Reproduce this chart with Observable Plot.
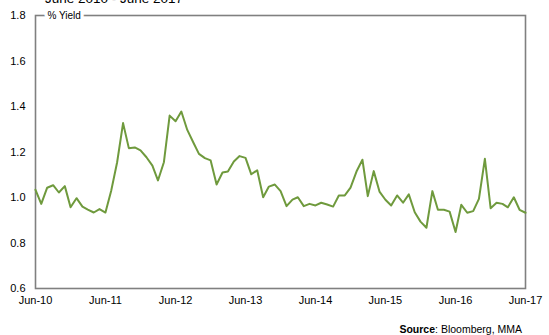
<!DOCTYPE html>
<html>
<head>
<meta charset="utf-8">
<script src="https://cdn.jsdelivr.net/npm/d3@7"></script>
<script src="https://cdn.jsdelivr.net/npm/@observablehq/plot@0.6"></script>
<style>
  html, body { margin: 0; padding: 0; background: #fff; }
  body { width: 549px; height: 335px; overflow: hidden; position: relative; font-family: "Liberation Sans", Arial, sans-serif; }
  #title { position: absolute; left: 45px; top: -9px; font-size: 13.5px; line-height: 16px; color: #000; white-space: nowrap; z-index: 2; }
  #chart { position: absolute; left: 0; top: 0; z-index: 1; }
  #source { position: absolute; right: 27px; top: 323px; font-size: 10.5px; line-height: 12px; color: #000; white-space: nowrap; z-index: 2; }
</style>
</head>
<body>
<div id="title">June 2010 - June 2017</div>
<div id="chart"></div>
<div id="source"><b>Source</b>: Bloomberg, MMA</div>
<script>
const startMonth = "2010-06-01";
const endMonth = "2017-06-01";
const yieldValues = [
  1.034, 0.972, 1.043, 1.054, 1.022, 1.050, 0.957, 0.997, 0.960, 0.947, 0.934, 0.949,
  0.934, 1.030, 1.155, 1.327, 1.217, 1.220, 1.207, 1.177, 1.140, 1.075, 1.155, 1.360,
  1.335, 1.378, 1.297, 1.243, 1.192, 1.173, 1.163, 1.057, 1.110, 1.114, 1.158, 1.182,
  1.174, 1.102, 1.120, 1.001, 1.048, 1.057, 1.028, 0.962, 0.991, 1.001, 0.962, 0.972,
  0.965, 0.977, 0.969, 0.960, 1.009, 1.009, 1.043, 1.114, 1.166, 1.006, 1.116, 1.026,
  0.990, 0.965, 1.009, 0.977, 1.014, 0.935, 0.894, 0.867, 1.028, 0.946, 0.946, 0.938,
  0.848, 0.968, 0.933, 0.940, 0.994, 1.170, 0.953, 0.977, 0.972, 0.957, 1.001, 0.946,
  0.933
];
const xTickLabels = ["Jun-10","Jun-11","Jun-12","Jun-13","Jun-14","Jun-15","Jun-16","Jun-17"];
const xTickDates = ["2010-06-01","2011-06-01","2012-06-01","2013-06-01","2014-06-01","2015-06-01","2016-06-01","2017-06-01"];
const yTicks = [0.6, 0.8, 1.0, 1.2, 1.4, 1.6, 1.8];
const yLabel = "% Yield";

const months = d3.utcMonth.range(new Date(startMonth), d3.utcMonth.offset(new Date(endMonth), 1));
const data = yieldValues.map((v, i) => ({date: months[i], value: v}));
const tickDates = xTickDates.map(d => new Date(d));
const labelFor = new Map(tickDates.map((d, i) => [+d, xTickLabels[i]]));

const lineColor = "#6f9a3d";
const frameColor = "#808080";

const chart = Plot.plot({
  width: 549,
  height: 335,
  marginLeft: 35,
  marginRight: 24,
  marginTop: 15,
  marginBottom: 47,
  style: {fontFamily: "Liberation Sans, Arial, sans-serif", fontSize: "11px", color: "#000", background: "transparent"},
  x: {type: "utc", domain: [new Date(startMonth), new Date(endMonth)]},
  y: {domain: [0.6, 1.8]},
  marks: [
    Plot.frame({stroke: frameColor, strokeWidth: 1.6}),
    Plot.axisY({ticks: yTicks, tickSize: 0, tickPadding: 10, tickFormat: d3.format(".1f"), label: null, fontSize: 11}),
    Plot.axisX({ticks: tickDates, tickSize: 0, tickPadding: 8, tickFormat: d => labelFor.get(+d), label: null, fontSize: 11}),
    Plot.line(data, {x: "date", y: "value", stroke: lineColor, strokeWidth: 2}),
    Plot.text([yLabel], {frameAnchor: "top-left", dx: 12, dy: 0, text: d => d, fill: "#000", stroke: "#fff", strokeWidth: 7, fontSize: 10, textAnchor: "start", lineAnchor: "middle"})
  ]
});
document.getElementById("chart").appendChild(chart);
</script>
</body>
</html>
